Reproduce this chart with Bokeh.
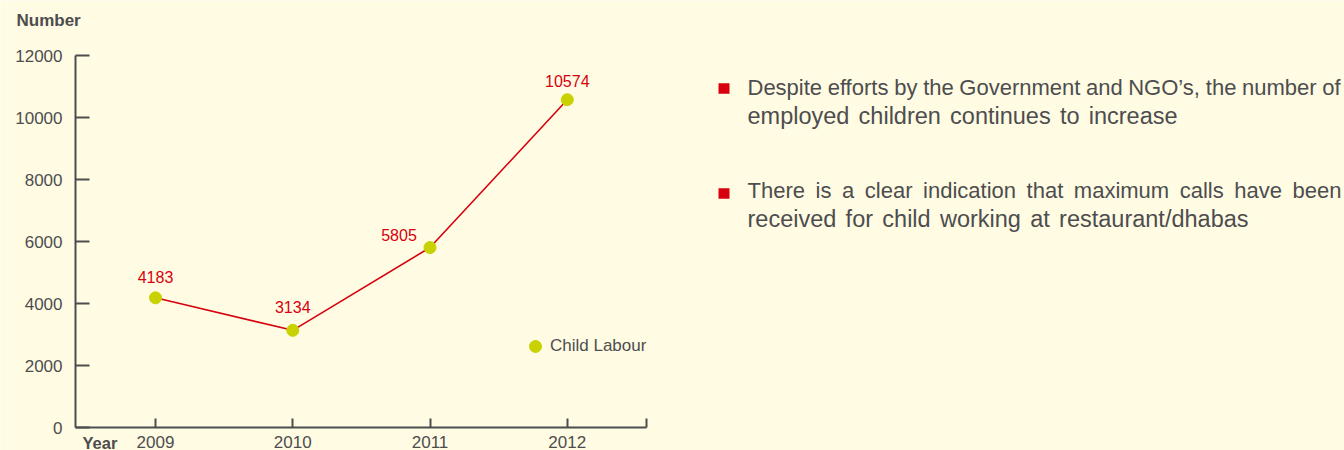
from bokeh.plotting import figure
from bokeh.models import Range1d, FixedTicker, Label, BoxAnnotation, ColumnDataSource
from bokeh.embed import file_html
from bokeh.resources import INLINE
from bokeh.core.properties import value

# ---- data ----
years = [2009, 2010, 2011, 2012]
child_labour = [4183, 3134, 5805, 10574]
series_name = "Child Labour"
y_ticks = [0, 2000, 4000, 6000, 8000, 10000, 12000]
y_axis_title = "Number"
x_axis_title = "Year"
bullets = [
    ["Despite efforts by the Government and NGO\u2019s, the number of",
     "employed children continues to increase"],
    ["There is a clear indication that maximum calls have been",
     "received for child working at restaurant/dhabas"],
]

# ---- styles / geometry ----
BG = "#fffce3"
GREY = "#4d4d4f"
RED = "#d7000f"
MARK = "#c8d200"
FONT = "Liberation Sans"
W, H = 1344, 450
label_dx = [0, 0, -31, 0]
label_dy = [21, 23, 13, 19]

AX_LEFT, AX_RIGHT = 75, 646
X0_PIX, PX_PER_YEAR = 155, 137.26
Y0_PIX, PX_PER_UNIT = 427, 0.031

x_start = years[0] - X0_PIX / PX_PER_YEAR
x_stop = x_start + W / PX_PER_YEAR
ax_x0 = years[0] - (X0_PIX - AX_LEFT) / PX_PER_YEAR
ax_x1 = years[0] + (AX_RIGHT - X0_PIX) / PX_PER_YEAR
y_start = -(H - Y0_PIX) / PX_PER_UNIT
y_stop = Y0_PIX / PX_PER_UNIT

p = figure(width=W, height=H, output_backend="svg", toolbar_location=None,
           x_range=Range1d(x_start, x_stop), y_range=Range1d(y_start, y_stop),
           min_border=0, min_border_left=0, min_border_right=0,
           min_border_top=0, min_border_bottom=0,
           background_fill_color=BG, border_fill_color=BG, outline_line_color=None)
p.grid.visible = False

xa = p.xaxis[0]
xa.fixed_location = 0
xa.bounds = (ax_x0, ax_x1)
xa.ticker = FixedTicker(ticks=years + [ax_x1])
xa.major_label_overrides = {ax_x1: ""}
xa.major_tick_in = 9
xa.major_tick_out = 0
xa.minor_tick_line_color = None
xa.axis_line_color = GREY
xa.axis_line_width = 2
xa.major_tick_line_color = GREY
xa.major_tick_line_width = 2
xa.major_label_text_font = FONT
xa.major_label_text_font_size = "17px"
xa.major_label_text_color = GREY
xa.major_label_standoff = 8

ya = p.yaxis[0]
ya.fixed_location = ax_x0
ya.bounds = (y_ticks[0], y_ticks[-1])
ya.ticker = FixedTicker(ticks=y_ticks)
ya.major_tick_in = 14
ya.major_tick_out = 0
ya.minor_tick_line_color = None
ya.axis_line_color = GREY
ya.axis_line_width = 2
ya.major_tick_line_color = GREY
ya.major_tick_line_width = 2
ya.major_label_text_font = FONT
ya.major_label_text_font_size = "17px"
ya.major_label_text_color = GREY
ya.major_label_standoff = 13

src = ColumnDataSource(dict(x=years, y=child_labour,
                            t=[str(v) for v in child_labour],
                            dx=label_dx, dy=[-d for d in label_dy]))

p.line("x", "y", source=src, line_color=RED, line_width=1.6)
p.scatter("x", "y", source=src, size=12, fill_color=MARK, line_color=MARK,
          legend_label=series_name)
p.text("x", "y", text="t", source=src, x_offset="dx", y_offset="dy",
       text_align="center", text_baseline="middle", text_color=RED,
       text_font=value(FONT), text_font_size="16px")

lg = p.legend[0]
lg.location = (520, 89)
lg.background_fill_alpha = 0
lg.border_line_color = None
lg.padding = 0
lg.margin = 0
lg.glyph_width = 30
lg.glyph_height = 30
lg.label_standoff = -2
lg.label_height = 30
lg.label_text_font = FONT
lg.label_text_font_size = "17px"
lg.label_text_color = GREY

p.add_layout(Label(x=16, y=H - 20, x_units="screen", y_units="screen", text=y_axis_title,
                   text_font=FONT, text_font_size="17px", text_font_style="bold",
                   text_color=GREY, text_baseline="middle"))
p.add_layout(Label(x=82, y=H - 442, x_units="screen", y_units="screen", text=x_axis_title,
                   text_font=FONT, text_font_size="16.5px", text_font_style="bold",
                   text_color=GREY, text_baseline="middle"))

# ---- right-hand notes, justified like the original ----
ADV = dict(zip("abcdefghijklmnopqrstuvwxyz",
               [556, 556, 500, 556, 556, 278, 556, 556, 222, 222, 500, 222, 833,
                556, 556, 556, 556, 333, 500, 278, 556, 500, 722, 500, 500, 500]))
ADV.update({"D": 722, "G": 778, "N": 722, "O": 778, "T": 611,
            "\u2019": 222, ",": 278, "/": 278, " ": 278})


def word_width(s, px):
    return sum(ADV.get(c, 556) for c in s) / 1000.0 * px


def place_line(text, x0, x1, center_y, px):
    words = text.split(" ")
    widths = [word_width(w, px) for w in words]
    gap = (x1 - x0 - sum(widths)) / (len(words) - 1)
    x = x0
    for w, wd in zip(words, widths):
        p.add_layout(Label(x=x, y=H - center_y, x_units="screen", y_units="screen",
                           text=w, text_font=FONT, text_font_size=f"{px}px",
                           text_color=GREY, text_baseline="middle"))
        x += wd + gap


TEXT_X = 747
square_y = [88, 193]
line_specs = [  # (right edge, centre y, font px) for each line
    [(1340, 87, 22), (1177, 115, 23.5)],
    [(1341, 190, 22), (1248, 218, 23.5)],
]
for lines, specs, sy in zip(bullets, line_specs, square_y):
    p.add_layout(BoxAnnotation(left=718, right=729, bottom=H - sy - 5.25, top=H - sy + 5.25,
                               left_units="screen", right_units="screen",
                               top_units="screen", bottom_units="screen",
                               fill_color=RED, fill_alpha=1, line_color=None))
    for txt, (x1, cy, px) in zip(lines, specs):
        place_line(txt, TEXT_X, x1, cy, px)

open("out.html", "w").write(file_html(p, INLINE))
